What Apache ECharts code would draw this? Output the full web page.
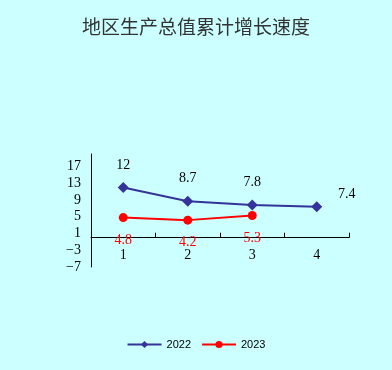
<!DOCTYPE html>
<html><head><meta charset="utf-8">
<script src="https://cdn.jsdelivr.net/npm/echarts@6/dist/echarts.min.js"></script>
<style>html,body{margin:0;padding:0;background:#ccffff;}#c{width:392px;height:370px;}</style>
</head><body><div id="c"></div>
<script>
var categories = ['1','2','3','4'];
var seriesNames = ['2022','2023'];
var values2022 = [12, 8.7, 7.8, 7.4];
var values2023 = [4.8, 4.2, 5.3];
var yTicks = [-7, -3, 1, 5, 9, 13, 17];

var chart = echarts.init(document.getElementById('c'));
var serif = '"Liberation Serif","DejaVu Serif",serif';
chart.setOption({
  backgroundColor: '#ccffff',
  title: {
    text: '地区生产总值累计增长速度', left: 'center', top: 12,
    textStyle: {fontFamily: '"Noto Sans CJK SC",serif', fontWeight: 'normal', fontSize: 19, color: '#333333'}
  },
  legend: {
    bottom: 15, left: 'center', itemWidth: 34, itemHeight: 9, itemGap: 10,
    textStyle: {fontSize: 11, color: '#000', fontFamily: 'Liberation Sans, sans-serif'},
    data: seriesNames
  },
  grid: {left: 91, right: 43, top: 154, bottom: 103},
  xAxis: {
    type: 'category', data: categories, boundaryGap: true,
    axisLine: {onZero: true, lineStyle: {color: '#000', width: 1}},
    axisTick: {show: true, inside: true, length: 5, lineStyle: {color: '#000'}},
    axisLabel: {fontFamily: serif, fontSize: 14, color: '#000', margin: -19}
  },
  yAxis: {
    type: 'value', min: -7, max: 20, interval: 4,
    splitLine: {show: false},
    axisLine: {show: true, lineStyle: {color: '#000'}},
    axisTick: {show: false},
    axisLabel: {fontFamily: serif, fontSize: 14, color: '#000', margin: 10,
      formatter: function (v) { return yTicks.indexOf(v) >= 0 ? (v < 0 ? '\u2212' + (-v) : String(v)) : ''; }}
  },
  series: [
    {
      name: seriesNames[0], type: 'line', data: values2022.map(function (v, i) {
        return i === 3 ? {value: v, label: {offset: [30, 10]}} : v;
      }),
      symbol: 'diamond', symbolSize: 11,
      lineStyle: {color: '#333399', width: 2},
      itemStyle: {color: '#333399'},
      label: {show: true, position: 'top', distance: 10, fontFamily: serif, fontSize: 14, color: '#000'}
    },
    {
      name: seriesNames[1], type: 'line', data: values2023,
      symbol: 'circle', symbolSize: 9,
      lineStyle: {color: '#ff0000', width: 2},
      itemStyle: {color: '#ff0000'},
      label: {show: true, position: 'bottom', distance: 11, fontFamily: serif, fontSize: 14, color: '#ff0000'}
    }
  ]
});
</script></body></html>
